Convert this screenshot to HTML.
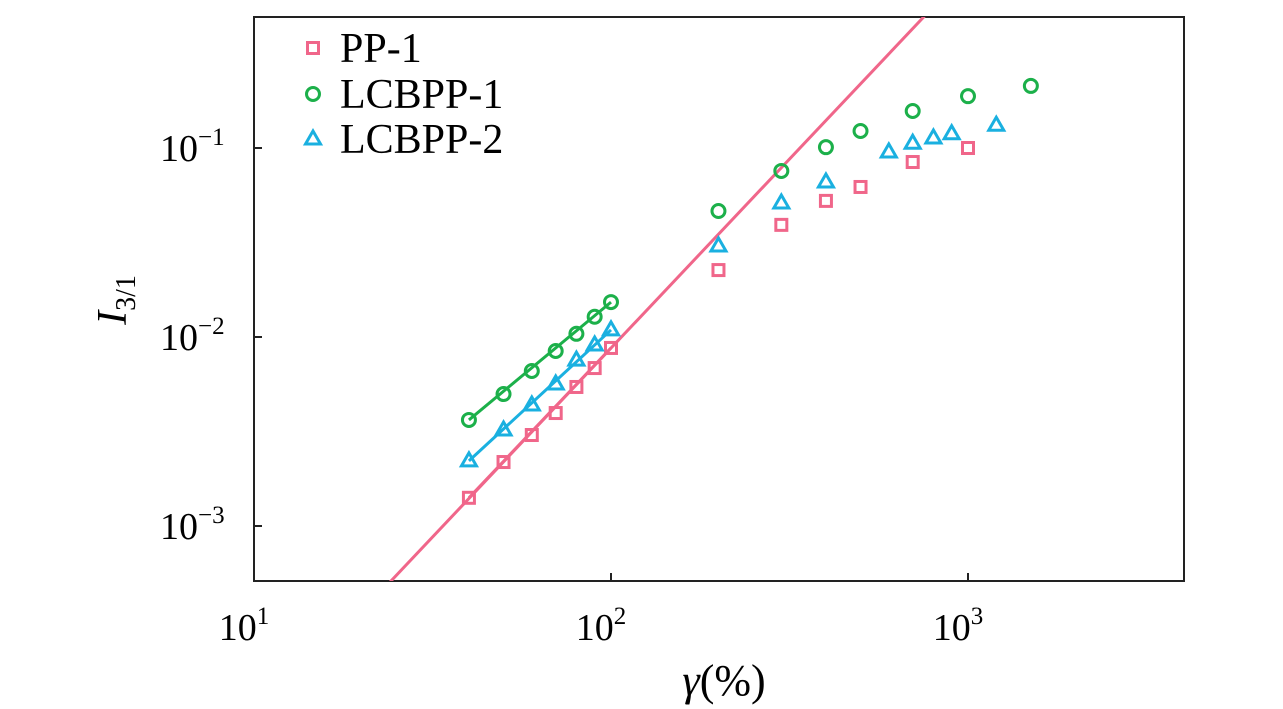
<!DOCTYPE html>
<html><head><meta charset="utf-8"><style>
html,body{margin:0;padding:0;background:#fff;}
svg{display:block;font-family:"Liberation Serif",serif;}
</style></head><body>
<svg id="chart" width="1283" height="709"></svg>
<script>
const xData = [40,50,60,70,80,90,100,200,300,400,500,700,1000];
const pp1 = [0.00141,0.00218,0.00303,0.00396,0.00544,0.00685,0.00875,0.0226,0.0392,0.0525,0.0622,0.0843,0.1];
const xL1 = [40,50,60,70,80,90,100,200,300,400,500,700,1000,1500];
const lcbpp1 = [0.00364,0.00499,0.00661,0.00843,0.0104,0.0128,0.0153,0.0464,0.0756,0.101,0.123,0.157,0.188,0.213];
const xL2 = [40,50,60,70,80,90,100,200,300,400,600,700,800,900,1200];
const lcbpp2 = [0.00221,0.00322,0.00437,0.00564,0.00755,0.00907,0.0109,0.0303,0.0512,0.0661,0.0953,0.106,0.113,0.119,0.132];
const fitCoef = [8.74e-7];
const fitSlope = [2];
const xTicks = [10,100,1000];
const xTickExp = ["1","2","3"];
const yTicks = [0.001,0.01,0.1];
const yTickExp = ["−3","−2","−1"];

const L=254,R=1184,T=17,B=581;
const xMin=1,xMax=1+930/357, yMax=-1+131/189, yMin=-3-55/189;
const sx=v=>L+(Math.log10(v)-xMin)/(xMax-xMin)*(R-L);
const sy=v=>B-(Math.log10(v)-yMin)/(yMax-yMin)*(B-T);
const svg=document.getElementById('chart');
const NS='http://www.w3.org/2000/svg';
function mk(tag,attrs,parent){const e=document.createElementNS(NS,tag);for(const k in attrs)e.setAttribute(k,attrs[k]);(parent||svg).appendChild(e);return e;}

const defs=mk('defs',{});const cp=mk('clipPath',{id:'clip'},defs);mk('rect',{x:L,y:T,width:R-L,height:B-T},cp);

const frame=mk('rect',{x:L,y:T,width:R-L,height:B-T,fill:'none',stroke:'#222','stroke-width':2});



xTicks.forEach((t,i)=>{
  const x=sx(t);
  const tk=mk('line',{x1:x,x2:x,y1:B,y2:B-8,stroke:'#222','stroke-width':2});
  
  
  const tx=mk('text',{x:x-10,y:640,'font-size':38,'text-anchor':'middle'});
  
  
  tx.innerHTML='10<tspan dy="-16" font-size="25">'+xTickExp[i]+'</tspan>';
});
yTicks.forEach((t,i)=>{
  const y=sy(t);
  const tk=mk('line',{x1:L,x2:L+8,y1:y,y2:y,stroke:'#222','stroke-width':2});
  
  
  const tx=mk('text',{x:160,y:y+13,'font-size':38});
  
  
  tx.innerHTML='10<tspan dy="-16" font-size="25">'+yTickExp[i]+'</tspan>';
});

const xl=mk('text',{x:724,y:695,'font-size':44,'text-anchor':'middle'});


xl.innerHTML='<tspan font-style="italic">γ</tspan>(%)';
const yl=mk('text',{transform:'translate(126,300) rotate(-90)','font-size':42,'text-anchor':'middle'});


yl.innerHTML='<tspan font-style="italic">I</tspan><tspan dy="9" font-size="28">3/1</tspan>';

const g=mk('g',{'clip-path':'url(#clip)'});
const fx1=20,fx2=1000;
const fit=mk('line',{x1:sx(fx1),y1:sy(fitCoef[0]*Math.pow(fx1,fitSlope[0])),x2:sx(fx2),y2:sy(fitCoef[0]*Math.pow(fx2,fitSlope[0])),stroke:'#f0668a','stroke-width':3},g);



const series=[
 {xs:xData,ys:pp1,c:'#f0668a',m:'sq',n:'pp1'},
 {xs:xL1,ys:lcbpp1,c:'#1cb04a',m:'ci',n:'lcbpp1'},
 {xs:xL2,ys:lcbpp2,c:'#1ab0e0',m:'tr',n:'lcbpp2'}];
function marker(m,x,y,c,parent){
  let e;
  if(m==='sq')e=mk('rect',{x:x-5.5,y:y-5.5,width:11,height:11,fill:'none',stroke:c,'stroke-width':3},parent);
  else if(m==='ci')e=mk('circle',{cx:x,cy:y,r:6.5,fill:'none',stroke:c,'stroke-width':3},parent);
  else e=mk('polygon',{points:`${x},${y-8} ${x-7.5},${y+5} ${x+7.5},${y+5}`,fill:'none',stroke:c,'stroke-width':3},parent);
  return e;
}
series.forEach(s=>{
  const ln=mk('line',{x1:sx(s.xs[0]),y1:sy(s.ys[0]),x2:sx(s.xs[6]),y2:sy(s.ys[6]),stroke:s.c,'stroke-width':3});
  
  
  s.xs.forEach((xv,i)=>{
    const e=marker(s.m,sx(xv),sy(s.ys[i]),s.c);
    
    
  });
});
const legItems=[['PP-1','sq','#f0668a',48],['LCBPP-1','ci','#1cb04a',94],['LCBPP-2','tr','#1ab0e0',139]];
legItems.forEach(it=>{
  const e=marker(it[1],313,it[3],it[2]);
  
  
  const t=mk('text',{x:340,y:it[3]+14,'font-size':42});
  
  
  t.textContent=it[0];
});
</script>
</body></html>
